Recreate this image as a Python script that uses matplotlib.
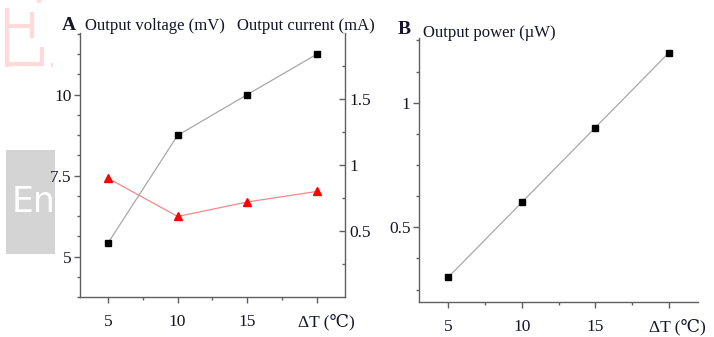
import matplotlib
matplotlib.use('Agg')
import matplotlib.pyplot as plt
from matplotlib.ticker import MultipleLocator, FixedLocator, FixedFormatter
from matplotlib.patches import Rectangle
from matplotlib.lines import Line2D
import matplotlib.transforms as mtransforms

plt.rcParams.update({
    'font.family': ['Liberation Serif', 'DejaVu Serif', 'Noto Sans CJK SC'],
    'font.size': 12,
    'axes.edgecolor': '#606060',
    'axes.linewidth': 1.0,
    'xtick.color': '#606060',
    'ytick.color': '#606060',
    'xtick.labelcolor': '#14142a',
    'ytick.labelcolor': '#14142a',
    'xtick.labelsize': 12.5,
    'ytick.labelsize': 12.5,
})

# data
dT = [5, 10, 15, 20]
voltage = [5.41, 8.74, 10.0, 11.25]    # mV
current = [0.90, 0.61, 0.72, 0.80]     # mA
power = [0.30, 0.60, 0.90, 1.20]       # uW
xlabels = ['5', '10', '15', 'ΔT (℃)']

W, H = 714, 337
fig = plt.figure(figsize=(W / 100, H / 100), dpi=100)


def fx(x):
    return x / W


def fy(y):
    return 1 - y / H


def box(x0, y0, x1, y1):
    return [fx(x0), fy(y1), fx(x1) - fx(x0), fy(y0) - fy(y1)]


def style_x(ax):
    ax.set_xlim(3, 22)
    ax.xaxis.set_major_locator(FixedLocator(dT))
    ax.xaxis.set_major_formatter(FixedFormatter(xlabels))
    ax.xaxis.set_minor_locator(FixedLocator([7.5, 12.5, 17.5]))
    ax.tick_params(axis='x', which='major', direction='out', length=4, width=1, pad=8)
    ax.tick_params(axis='x', which='minor', direction='out', length=2.5, width=1)
    lab = ax.get_xticklabels()[-1]
    lab.set_transform(lab.get_transform() +
                      mtransforms.ScaledTranslation(9 / 100, 0, fig.dpi_scale_trans))


# ---- page overlay bits (grey "En" tab, faded pink glyph), behind the plot
fig.patches.append(Rectangle((fx(6), fy(254)), fx(55) - fx(6), fy(150) - fy(254),
                             transform=fig.transFigure, facecolor='#d4d4d4',
                             edgecolor='none', zorder=-2))
fig.text(fx(34), fy(202), 'En', fontsize=25, color='white', ha='center', va='center',
         family='DejaVu Sans', zorder=-1)
pink = '#ffdada'
strokes = [
    [(7, 8), (7, 67)],
    [(7, 26), (32, 26)],
    [(32, 12), (32, 38)],
    [(7, 64), (42, 64)],
    [(42, 47), (42, 66)],
    [(51, 65), (53, 65)],
    [(39, 0), (39, 3)],
]
for pts in strokes:
    xs = [fx(p[0]) for p in pts]
    ys = [fy(p[1]) for p in pts]
    fig.lines.append(Line2D(xs, ys, transform=fig.transFigure, color=pink, lw=3,
                            solid_capstyle='butt', zorder=-1))

# ---- panel A
axA = fig.add_axes(box(80, 33, 345, 297))
axA.plot(dT, voltage, color='#a8a8a8', lw=0.9, marker='s', ms=4.5,
         mfc='black', mec='black', zorder=3)
axA.set_ylim(3.75, 11.9)
axA.yaxis.set_major_locator(FixedLocator([5, 7.5, 10]))
axA.yaxis.set_major_formatter(FixedFormatter(['5', '7.5', '10']))
axA.yaxis.set_minor_locator(MultipleLocator(0.625))
axA.tick_params(axis='y', which='major', direction='out', length=4, width=1, pad=2)
axA.tick_params(axis='y', which='minor', direction='out', length=2.5, width=1)
axA.spines['top'].set_visible(False)
axA.spines['right'].set_visible(False)
style_x(axA)

axA2 = axA.twinx()
axA2.plot(dT, current, color='#f28a8a', lw=0.9, marker='^', ms=5.5,
          mfc='red', mec='red', zorder=3)
axA2.set_ylim(0, 2.0)
axA2.yaxis.set_major_locator(FixedLocator([0.5, 1, 1.5]))
axA2.yaxis.set_major_formatter(FixedFormatter(['0.5', '1', '1.5']))
axA2.yaxis.set_minor_locator(FixedLocator([0.25, 0.75, 1.25, 1.75]))
axA2.tick_params(axis='y', which='major', direction='in', length=4, width=1, pad=3)
axA2.tick_params(axis='y', which='minor', direction='in', length=2.5, width=1)
for s in ['top', 'left', 'bottom']:
    axA2.spines[s].set_visible(False)

# ---- panel B
axB = fig.add_axes(box(419, 38, 698, 302))
axB.plot(dT, power, color='#a8a8a8', lw=0.9, marker='s', ms=4.5,
         mfc='black', mec='black', zorder=3)
axB.set_ylim(0.2, 1.26)
axB.yaxis.set_major_locator(FixedLocator([0.5, 1]))
axB.yaxis.set_major_formatter(FixedFormatter(['0.5', '1']))
axB.yaxis.set_minor_locator(MultipleLocator(0.125))
axB.tick_params(axis='y', which='major', direction='out', length=4, width=1, pad=2)
axB.tick_params(axis='y', which='minor', direction='out', length=2.5, width=1)
axB.spines['top'].set_visible(False)
axB.spines['right'].set_visible(False)
style_x(axB)

# ---- headings
tc = '#14142a'
fig.text(fx(62), fy(30), 'A', fontsize=14, fontweight='bold', color=tc, va='baseline')
fig.text(fx(85), fy(30), 'Output voltage (mV)', fontsize=12, color=tc, va='baseline')
fig.text(fx(237), fy(30), 'Output current (mA)', fontsize=12, color=tc, va='baseline')
fig.text(fx(398), fy(34), 'B', fontsize=14, fontweight='bold', color=tc, va='baseline')
fig.text(fx(423), fy(37), 'Output power (µW)', fontsize=12, color=tc, va='baseline')

fig.savefig('out.png', dpi=100, facecolor='white')
